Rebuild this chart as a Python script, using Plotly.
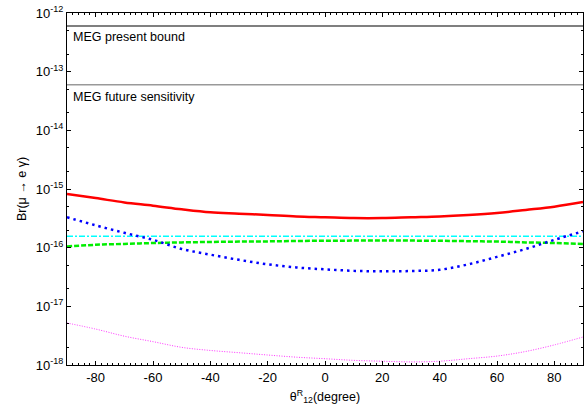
import plotly.graph_objects as go

# mixing angle theta^R_12 in degrees
theta = [-90, -80, -70, -60, -50, -40, -30, -20, -10, 0, 10, 20, 30, 40, 50, 60, 70, 80, 90]

# Br(mu -> e gamma) predictions
br_red = [8.2e-16, 7.0e-16, 5.9e-16, 5.2e-16, 4.5e-16, 4.0e-16, 3.8e-16, 3.6e-16, 3.4e-16, 3.3e-16,
          3.2e-16, 3.2e-16, 3.3e-16, 3.4e-16, 3.6e-16, 3.9e-16, 4.4e-16, 5.0e-16, 6.0e-16]
br_blue = [3.3e-16, 2.4e-16, 1.79e-16, 1.36e-16, 9.5e-17, 7.6e-17, 6.2e-17, 5.2e-17, 4.6e-17, 4.27e-17,
           4.03e-17, 3.95e-17, 4.0e-17, 4.2e-17, 5.2e-17, 6.97e-17, 9.5e-17, 1.36e-16, 1.9e-16]
br_green = [1.05e-16, 1.12e-16, 1.16e-16, 1.2e-16, 1.23e-16, 1.25e-16, 1.27e-16, 1.28e-16, 1.3e-16, 1.31e-16,
            1.32e-16, 1.33e-16, 1.32e-16, 1.31e-16, 1.29e-16, 1.27e-16, 1.23e-16, 1.2e-16, 1.16e-16]
br_cyan = [1.57e-16] * len(theta)
br_magenta = [5.2e-18, 4.1e-18, 3.1e-18, 2.5e-18, 2.0e-18, 1.77e-18, 1.62e-18, 1.48e-18, 1.36e-18, 1.28e-18,
              1.2e-18, 1.16e-18, 1.13e-18, 1.16e-18, 1.28e-18, 1.42e-18, 1.7e-18, 2.2e-18, 3.0e-18]

# experimental limits
meg_present = 6.0e-13
meg_future = 6.0e-14

y_exponents = [-18, -17, -16, -15, -14, -13, -12]
x_ticks = [-80, -60, -40, -20, 0, 20, 40, 60, 80]

fig = go.Figure()

fig.add_trace(go.Scatter(x=[theta[0], theta[-1]], y=[meg_present] * 2, mode="lines",
                         line=dict(color="#555555", width=1.5), showlegend=False))
fig.add_trace(go.Scatter(x=[theta[0], theta[-1]], y=[meg_future] * 2, mode="lines",
                         line=dict(color="#999999", width=1.5), showlegend=False))

fig.add_trace(go.Scatter(x=theta, y=br_magenta, mode="lines", line_shape="spline",
                         line=dict(color="#ff33ff", width=1, dash="1px,1.5px"), showlegend=False))
fig.add_trace(go.Scatter(x=theta, y=br_cyan, mode="lines",
                         line=dict(color="#00ffff", width=1.5, dash="6px,2px,2px,2px"), showlegend=False))
fig.add_trace(go.Scatter(x=theta, y=br_green, mode="lines", line_shape="spline",
                         line=dict(color="#00ee00", width=2.5, dash="5px,2px"), showlegend=False))
fig.add_trace(go.Scatter(x=theta, y=br_blue, mode="lines", line_shape="spline",
                         line=dict(color="#0000ff", width=2.5, dash="2.5px,4px"), showlegend=False))
fig.add_trace(go.Scatter(x=theta, y=br_red, mode="lines", line_shape="spline",
                         line=dict(color="#ff0000", width=2.5), showlegend=False))

fig.add_annotation(x=-88.5, y=-12.41, xref="x", yref="y", text="MEG present bound", showarrow=False,
                   xanchor="left", yanchor="middle", font=dict(size=12.5, color="black"))
fig.add_annotation(x=-88.5, y=-13.43, xref="x", yref="y", text="MEG future sensitivity", showarrow=False,
                   xanchor="left", yanchor="middle", font=dict(size=12.5, color="black"))

fig.update_layout(
    width=584, height=414,
    margin=dict(l=67, r=1, t=13, b=49),
    paper_bgcolor="white", plot_bgcolor="white",
    font=dict(family="Liberation Sans, Arial, sans-serif", size=12, color="black"),
    xaxis=dict(
        range=[-90, 90], tickvals=x_ticks, ticktext=[str(v) for v in x_ticks],
        tickfont=dict(size=13),
        ticks="inside", ticklen=4, tickwidth=1, tickcolor="black",
        showline=True, linecolor="black", linewidth=1, mirror="allticks",
        showgrid=False, zeroline=False,
        minor=dict(dtick=2, ticks="inside", ticklen=2, tickcolor="black", showgrid=False),
        title=dict(text="θ<sup>R</sup><sub>12</sub>(degree)", standoff=8, font=dict(size=12.5)),
    ),
    yaxis=dict(
        type="log", range=[-18, -12],
        tickvals=[10.0 ** e for e in y_exponents],
        ticktext=["10<sup>%d</sup>" % e for e in y_exponents],
        tickfont=dict(size=13),
        ticks="inside", ticklen=4, tickwidth=1, tickcolor="black",
        showline=True, linecolor="black", linewidth=1, mirror="allticks",
        showgrid=False, zeroline=False,
        minor=dict(ticks="inside", ticklen=2, tickcolor="black", showgrid=False),
        title=dict(text="Br(μ → e γ)", standoff=6, font=dict(size=12.5)),
    ),
)

fig.write_html("out.html")
